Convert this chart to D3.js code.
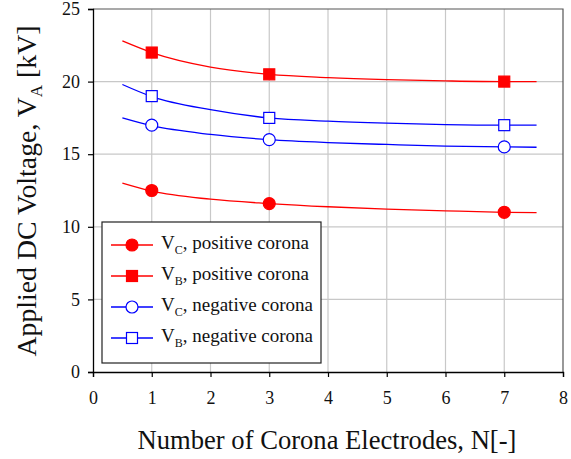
<!DOCTYPE html>
<html><head><meta charset="utf-8">
<script src="https://cdn.jsdelivr.net/npm/d3@7"></script>
<style>body{margin:0;background:#fff}svg{display:block}</style>
</head><body>
<svg id="c" width="571" height="459"></svg>
<script>
// Measured data points
const electrodes = [1, 3, 7];
const vcPositive = [12.5, 11.6, 11.0];
const vbPositive = [22.0, 20.5, 20.0];
const vcNegative = [17.0, 16.0, 15.5];
const vbNegative = [19.0, 17.5, 17.0];
// Fitted trend curves
const curveX = [0.5, 1, 2, 3, 4, 5, 6, 7, 7.55];
const vcPositiveCurve = [13.0, 12.45, 11.9, 11.6, 11.38, 11.22, 11.1, 11.0, 10.97];
const vbPositiveCurve = [22.8, 22.0, 21.0, 20.5, 20.28, 20.14, 20.05, 20.0, 20.0];
const vcNegativeCurve = [17.5, 16.96, 16.36, 16.0, 15.8, 15.67, 15.56, 15.5, 15.48];
const vbNegativeCurve = [19.8, 18.97, 18.07, 17.5, 17.28, 17.14, 17.04, 17.0, 17.0];
const xTicks = [0, 1, 2, 3, 4, 5, 6, 7, 8];
const yTicks = [0, 5, 10, 15, 20, 25];
const legendSub = ["C", "B", "C", "B"];
const legendText = [", positive corona", ", positive corona", ", negative corona", ", negative corona"];

const FONT = "'Liberation Serif', 'Times New Roman', Times, serif";

const series = [
  {vals: vcPositive, curve: vcPositiveCurve, color: "#ff0000", shape: "circle", fill: true},
  {vals: vbPositive, curve: vbPositiveCurve, color: "#ff0000", shape: "square", fill: true},
  {vals: vcNegative, curve: vcNegativeCurve, color: "#0000ff", shape: "circle", fill: false},
  {vals: vbNegative, curve: vbNegativeCurve, color: "#0000ff", shape: "square", fill: false}
];

const svg = d3.select("#c").style("font-family", FONT);
const L = 93, R = 563, T = 9, B = 372;
const x = d3.scaleLinear().domain([0, 8]).range([L, R]);
const y = d3.scaleLinear().domain([0, 25]).range([B, T]);

// grid
svg.append("g").selectAll("line").data(xTicks.slice(1, -1)).join("line")
  .attr("x1", d => x(d)).attr("x2", d => x(d)).attr("y1", T).attr("y2", B)
  .attr("stroke", "#c8c8c8").attr("stroke-width", 1.2);
svg.append("g").selectAll("line").data(yTicks.slice(1, -1)).join("line")
  .attr("y1", d => y(d)).attr("y2", d => y(d)).attr("x1", L).attr("x2", R)
  .attr("stroke", "#c8c8c8").attr("stroke-width", 1.2);
// frame top/right
svg.append("path").attr("d", `M${L},${T}H${R}V${B}`).attr("fill", "none").attr("stroke", "#555").attr("stroke-width", 1.2);

// axes
const xa = svg.append("g").attr("transform", `translate(0,${B})`)
  .call(d3.axisBottom(x).tickValues(xTicks).tickSize(5).tickPadding(14).tickFormat(d3.format("d")));
const ya = svg.append("g").attr("transform", `translate(${L},0)`)
  .call(d3.axisLeft(y).tickValues(yTicks).tickSize(5).tickPadding(8).tickFormat(d3.format("d")));
[xa, ya].forEach(a => {
  a.attr("font-family", FONT).attr("font-size", 18);
  a.select(".domain").attr("stroke", "#000").attr("stroke-width", 1.3);
  a.selectAll(".tick line").attr("stroke", "#000").attr("stroke-width", 1.2);
  a.selectAll("text").attr("fill", "#111");
});

// curves
const line = d3.line().x(d => x(d[0])).y(d => y(d[1])).curve(d3.curveMonotoneX);
series.forEach(s => {
  svg.append("path").datum(curveX.map((cx, i) => [cx, s.curve[i]]))
    .attr("d", line).attr("fill", "none").attr("stroke", s.color).attr("stroke-width", 1.3);
});

function marker(g, s, cx, cy) {
  if (s.shape === "circle") {
    g.append("circle").attr("cx", cx).attr("cy", cy).attr("r", 6)
      .attr("fill", s.fill ? s.color : "#fff").attr("stroke", s.color).attr("stroke-width", 1.2);
  } else {
    g.append("rect").attr("x", cx - 5.5).attr("y", cy - 5.5).attr("width", 11).attr("height", 11)
      .attr("fill", s.fill ? s.color : "#fff").attr("stroke", s.color).attr("stroke-width", 1.2);
  }
}
series.forEach(s => {
  const g = svg.append("g");
  electrodes.forEach((e, i) => marker(g, s, x(e), y(s.vals[i])));
});

// legend
const lg = svg.append("g");
lg.append("rect").attr("x", 102).attr("y", 222).attr("width", 219).attr("height", 141)
  .attr("fill", "#fff").attr("stroke", "#222").attr("stroke-width", 1.2);
const rowY = [245, 276, 307, 338];
series.forEach((s, i) => {
  const ry = rowY[i];
  lg.append("line").attr("x1", 111).attr("x2", 153).attr("y1", ry).attr("y2", ry)
    .attr("stroke", s.color).attr("stroke-width", 1.3);
  marker(lg, s, 132, ry);
  const t = lg.append("text").attr("x", 161).attr("y", ry + 4).attr("font-size", 19).attr("fill", "#111");
  t.append("tspan").text("V");
  t.append("tspan").attr("font-size", 12).attr("dy", 5).text(legendSub[i]);
  t.append("tspan").attr("dy", -5).text(legendText[i]);
});

// axis titles
svg.append("text").attr("x", 327).attr("y", 449).attr("text-anchor", "middle")
  .attr("font-size", 26.6).attr("fill", "#111").text("Number of Corona Electrodes, N[-]");
const yt = svg.append("text").attr("transform", "translate(36,191) rotate(-90)").attr("text-anchor", "middle")
  .attr("font-size", 27.8).attr("fill", "#111");
yt.append("tspan").text("Applied DC Voltage, V");
yt.append("tspan").attr("font-size", 17).attr("dy", 6).text("A");
yt.append("tspan").attr("dy", -6).text(" [kV]");
</script>
</body></html>
